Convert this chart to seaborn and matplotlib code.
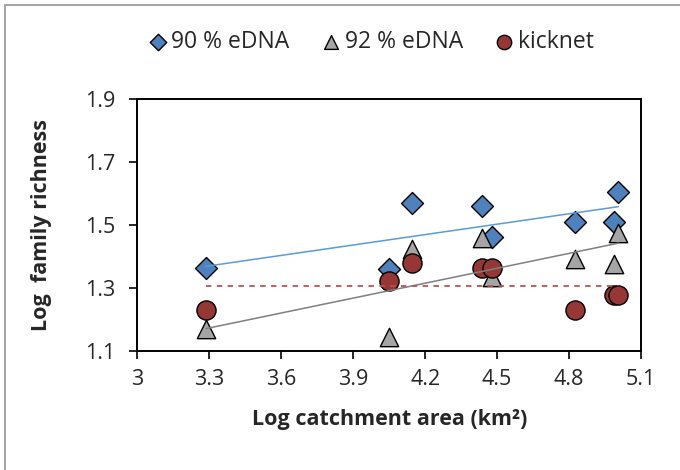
import numpy as np
import pandas as pd
import matplotlib
matplotlib.use("Agg")
import matplotlib.pyplot as plt
from matplotlib.patches import Rectangle
import seaborn as sns

# Values
log_area = [3.285, 4.05, 4.147, 4.437, 4.478, 4.825, 4.988, 5.006]
edna_90 = [1.362, 1.360, 1.569, 1.559, 1.463, 1.508, 1.508, 1.605]
edna_92 = [1.170, 1.143, 1.425, 1.458, 1.335, 1.393, 1.377, 1.476]
kicknet = [1.230, 1.322, 1.380, 1.364, 1.364, 1.230, 1.279, 1.279]
x_ticks = [3.0, 3.3, 3.6, 3.9, 4.2, 4.5, 4.8, 5.1]
y_ticks = [1.1, 1.3, 1.5, 1.7, 1.9]

df = pd.DataFrame({"area": log_area, "e90": edna_90, "e92": edna_92, "kick": kicknet})

sns.set_style("white")
plt.rcParams["font.family"] = ["Open Sans", "DejaVu Sans"]

fig = plt.figure(figsize=(6.8, 4.7), dpi=100)
ax = fig.add_axes([0.2022, 0.2532, 0.7404, 0.5362])

# outer chart border (only top and left visible in the crop)
fig.patches.append(Rectangle((0.008, -0.1), 1.2, 1.089, transform=fig.transFigure,
                             fill=False, edgecolor="#a6a6a6", linewidth=1.5))

sns.scatterplot(data=df, x="area", y="e90", marker="D", s=125, color="#4f81bd",
                edgecolor="black", linewidth=1.0, label="90 % eDNA", ax=ax, zorder=3)
sns.scatterplot(data=df, x="area", y="e92", marker="^", s=175, color="#a5a5a5",
                edgecolor="black", linewidth=1.0, label="92 % eDNA", ax=ax, zorder=3)
sns.scatterplot(data=df, x="area", y="kick", marker="o", s=190, color="#953735",
                edgecolor="black", linewidth=1.0, label="kicknet", ax=ax, zorder=3)

# trend lines
sns.regplot(data=df, x="area", y="e90", scatter=False, ci=None, ax=ax,
            line_kws={"color": "#5b9bd5", "linewidth": 1.1, "zorder": 4})
sns.regplot(data=df, x="area", y="e92", scatter=False, ci=None, ax=ax,
            line_kws={"color": "#7f7f7f", "linewidth": 1.1, "zorder": 4})
ax.hlines(np.mean(kicknet), min(log_area), max(log_area), colors="#c0504d",
          linestyles=(0, (3, 3)), linewidth=1.3, zorder=4)

ax.set_xlim(3.0, 5.1)
ax.set_ylim(1.1, 1.9)
ax.set_xticks(x_ticks)
ax.set_xticklabels(["3", "3.3", "3.6", "3.9", "4.2", "4.5", "4.8", "5.1"])
ax.set_yticks(y_ticks)
ax.set_yticklabels([f"{v:.1f}" for v in y_ticks])
ax.tick_params(axis="both", direction="out", length=6, width=1.2, color="black",
               labelsize=15.5, bottom=True, left=True)
ax.tick_params(axis="y", pad=10)
ax.tick_params(axis="x", pad=7)
for s in ax.spines.values():
    s.set_color("black")
    s.set_linewidth(1.4)

ax.set_xlabel("Log catchment area (km²)", fontsize=15.5, fontweight="bold", labelpad=14)
ax.set_ylabel("Log  family richness", fontsize=15.5, fontweight="bold", labelpad=24)

handles, labels = ax.get_legend_handles_labels()
ax.get_legend().remove()
fig.legend(handles[:3], labels[:3], loc="center", bbox_to_anchor=(0.544, 0.91), ncol=3,
           frameon=False, fontsize=16.5, handletextpad=0.1, columnspacing=1.3,
           markerscale=0.75, handlelength=1.0)

fig.savefig("out.png", dpi=100)
